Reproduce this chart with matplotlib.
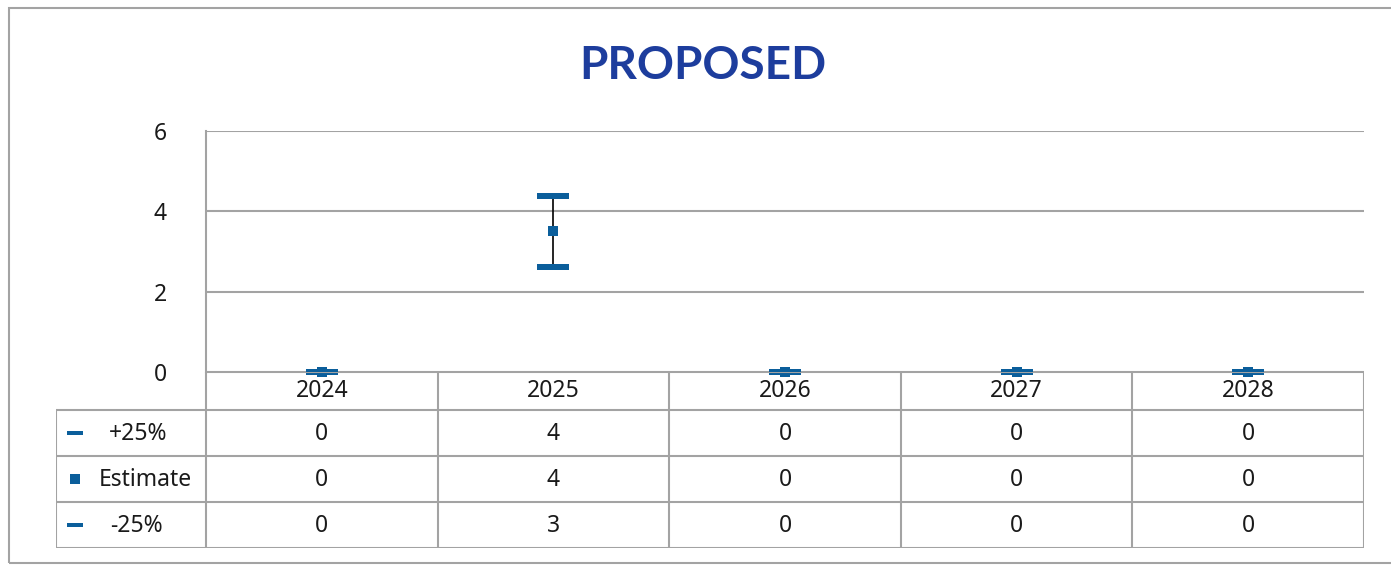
import matplotlib
matplotlib.use("Agg")
import matplotlib.pyplot as plt
from matplotlib.path import Path
from matplotlib.patches import Rectangle
import numpy as np

years = ["2024", "2025", "2026", "2027", "2028"]
plus25 = [0, 4.375, 0, 0, 0]
estimate = [0, 3.5, 0, 0, 0]
minus25 = [0, 2.625, 0, 0, 0]
row_names = ["+25%", "Estimate", "-25%"]
yticks = [0, 2, 4, 6]

W, H = 1391, 567
blue = "#0b5e9b"
grid = "#a3a3a3"
font = "Noto Sans"
fs = 16.5

fig = plt.figure(figsize=(W / 100, H / 100), dpi=100)

def fx(px):
    return px / W

def fy(py):
    return 1 - py / H

# outer chart border
fig.patches.append(Rectangle((fx(9), fy(563)), fx(1400 - 9), fy(8) - fy(563),
                             transform=fig.transFigure, fill=False,
                             edgecolor=grid, lw=1.5))

# plot area
L, R, T, B = 206, 1364, 131, 372
ax = fig.add_axes([fx(L), fy(B), fx(R - L), fy(T) - fy(B)])
ax.set_xlim(-0.5, 4.5)
ax.set_ylim(0, 6)
for s in ["top", "right", "bottom"]:
    ax.spines[s].set_visible(False)
ax.spines["left"].set_color(grid)
ax.spines["left"].set_linewidth(1.5)
ax.set_xticks([])
ax.set_yticks(yticks)
ax.set_yticklabels([str(t) for t in yticks], fontsize=fs, family=font, color="#1a1a1a")
ax.tick_params(axis="y", length=0, pad=28)
for t in yticks:
    ax.axhline(t, color=grid, lw=1.5, zorder=1)

x = np.arange(len(years))
dash = Path([(-2.5, -0.5), (2.5, -0.5), (2.5, 0.5), (-2.5, 0.5), (-2.5, -0.5)],
            [Path.MOVETO, Path.LINETO, Path.LINETO, Path.LINETO, Path.CLOSEPOLY])

ax.vlines(x, minus25, plus25, color="black", lw=1.2, zorder=2)
ax.plot(x, plus25, ls="none", marker=dash, ms=23, color=blue, mec=blue, mew=0, zorder=3, clip_on=False)
ax.plot(x, minus25, ls="none", marker=dash, ms=23, color=blue, mec=blue, mew=0, zorder=3, clip_on=False)
ax.plot(x, estimate, ls="none", marker="s", ms=6.5, color=blue, mec=blue, mew=0, zorder=4, clip_on=False)

# data table
TL, TB = 56, 548
colw = (R - L) / 5
lab_w = (L - TL) / colw
tax = fig.add_axes([fx(TL), fy(TB), fx(R - TL), fy(B) - fy(TB)])
tax.set_xlim(-0.5 - lab_w, 4.5)
tax.set_ylim(TB - B, 0)
tax.axis("off")
row_edges = [0, 38, 84, 130, 176]
lc = dict(color=grid, lw=1.5)
tax.hlines(row_edges[1:], -0.5 - lab_w, 4.5, **lc)
tax.hlines(row_edges[0], -0.5, 4.5, **lc)
tax.vlines(np.arange(-0.5, 5, 1), 0, row_edges[-1], **lc)
tax.vlines(-0.5 - lab_w, row_edges[1], row_edges[-1], **lc)

tk = dict(fontsize=fs, family=font, ha="center", va="center", color="#1a1a1a")
for i, yr in enumerate(years):
    tax.text(i, 19, yr, **tk)
rows = [plus25, estimate, minus25]
for r, vals in enumerate(rows):
    yc = (row_edges[r + 1] + row_edges[r + 2]) / 2
    for i, v in enumerate(vals):
        tax.text(i, yc + 1, f"{v:.0f}", **tk)

# row headers with legend keys
x0 = -0.5 - lab_w
key_x = x0 + 19 / colw
lab_x = [x0 + 82 / colw, x0 + 89 / colw, x0 + 80 / colw]
keys = [(dash, 11), ("s", 6.5), (dash, 11)]
for r, name in enumerate(row_names):
    yc = (row_edges[r + 1] + row_edges[r + 2]) / 2
    m, ms = keys[r]
    tax.plot([key_x], [yc], ls="none", marker=m, ms=ms, color=blue, mew=0)
    tax.text(lab_x[r], yc + 1, name, **tk)

fig.text(fx(703), fy(66), "PROPOSED", fontsize=33, family="Lato", weight="bold",
         color="#1d3d9d", ha="center", va="center")

fig.savefig("out.png", dpi=100)
